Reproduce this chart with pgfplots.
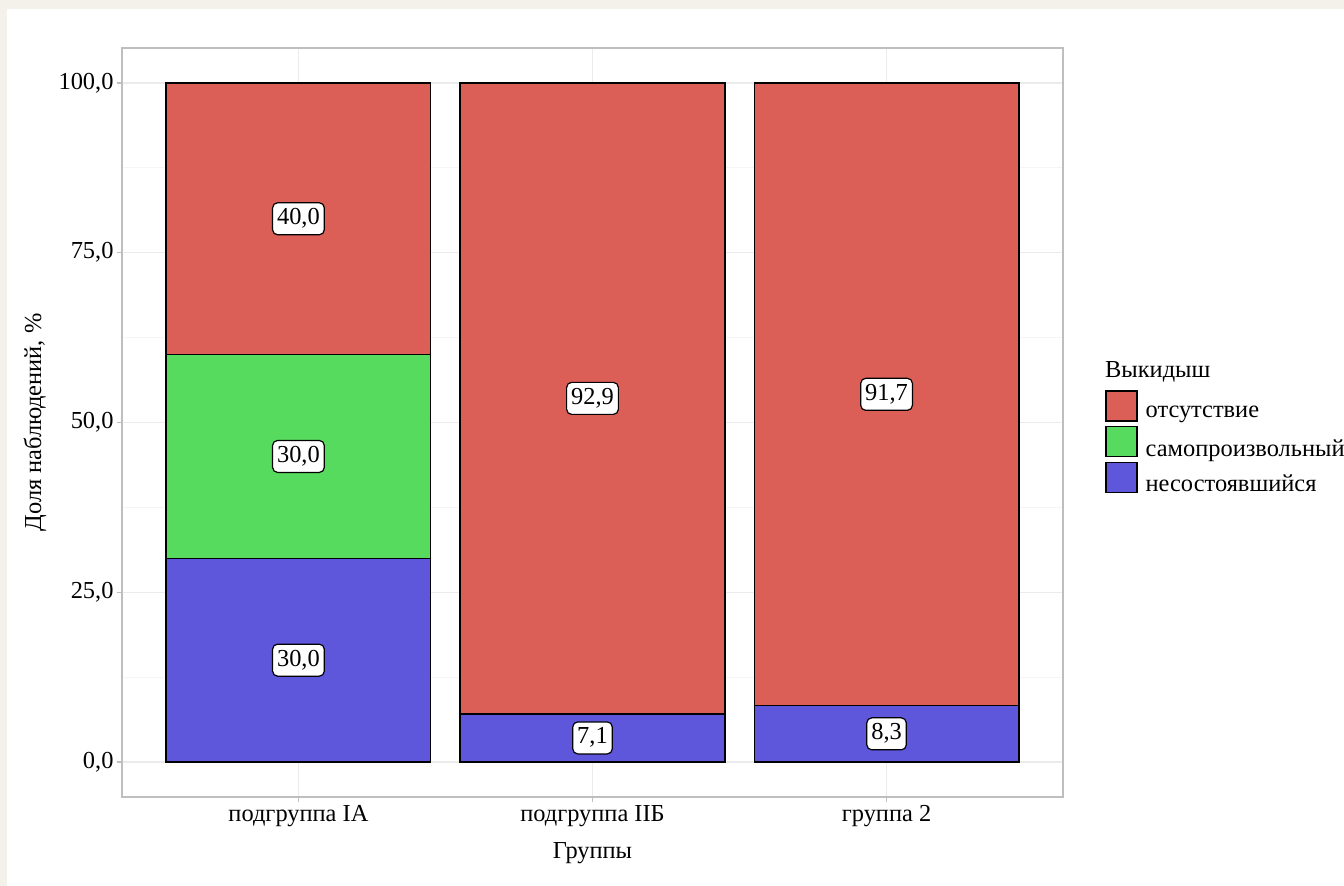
\documentclass[border=0pt]{standalone}
\usepackage{pgfplots}
\pgfplotsset{compat=1.18}
\usepackage{fontspec}
\setmainfont{Liberation Serif}
\definecolor{cred}{RGB}{219,95,87}
\definecolor{cgreen}{RGB}{87,219,95}
\definecolor{cblue}{RGB}{95,87,219}
\definecolor{bgpage}{RGB}{243,241,234}
\definecolor{frame}{RGB}{190,190,190}
\newcommand{\fs}{\fontsize{24.5}{29}\selectfont}
\begin{document}
\begin{tikzpicture}
\fill[bgpage] (0bp,0bp) rectangle (1344bp,886bp);
\fill[white] (7bp,0bp) rectangle (1344bp,877bp);
\useasboundingbox (0bp,0bp) rectangle (1344bp,886bp);
\begin{axis}[
  at={(122bp,89bp)}, anchor=south west,
  scale only axis, width=941bp, height=749bp,
  xmin=0.4, xmax=3.6, ymin=-5.15, ymax=105.15,
  xtick={1,2,3},
  xticklabels={подгруппа IA, подгруппа IIБ, группа 2},
  ytick={0,25,50,75,100},
  yticklabels={{0,0},{25,0},{50,0},{75,0},{100,0}},
  minor ytick={12.5,37.5,62.5,87.5},
  xmajorgrids, ymajorgrids, yminorgrids,
  major grid style={draw=black!8, line width=1.2bp},
  minor grid style={draw=black!4, line width=0.8bp},
  axis line style={draw=frame, line width=2bp},
  tick align=outside, xtick pos=left, ytick pos=left,
  major tick length=5bp, minor tick length=0pt,
  tick style={draw=black!25, line width=1.2bp},
  tick label style={font=\fs},
  xlabel={Группы}, ylabel={Доля наблюдений, \%},
  every axis y label/.style={at={(axis description cs:-0.0925,0.5)}, rotate=90, anchor=center, font=\fs},
  every axis x label/.style={at={(axis description cs:0.5,-0.0748)}, anchor=center, font=\fs},
  legend style={at={(axis description cs:1.0446,0.5434)}, anchor=north west,
    draw=none, fill=none, inner sep=0pt, row sep=4bp, column sep=8bp,
    font=\fs, nodes={inner sep=0pt}, name=leg},
  legend cell align=left,
  legend image code/.code={\draw[#1, draw=black, line width=1.5bp] (0bp,-8bp) rectangle (31bp,22bp);},
]
\addplot[ybar, bar width=0.9, bar shift=0pt, fill=cred, draw=black, line width=1.4bp]
  coordinates {(1,100) (2,100) (3,100)};
\addlegendentry{отсутствие}
\addplot[ybar, bar width=0.9, bar shift=0pt, fill=cgreen, draw=black, line width=1.4bp]
  coordinates {(1,60) (2,7.1) (3,8.3)};
\addlegendentry{самопроизвольный}
\addplot[ybar, bar width=0.9, bar shift=0pt, fill=cblue, draw=black, line width=1.4bp]
  coordinates {(1,30) (2,7.1) (3,8.3)};
\addlegendentry{несостоявшийся}
\addplot[draw=none, mark=none, forget plot, nodes near coords, point meta=explicit symbolic,
  nodes near coords align=center,
  every node near coord/.style={fill=white, draw=black, rounded corners=5bp, line width=1.2bp,
    inner xsep=4.5bp, inner ysep=5bp, text height=17bp, text depth=5bp, font=\fs, anchor=center}]
  coordinates {(1,80)[40,0] (1,45)[30,0] (1,15)[30,0] (2,53.55)[92,9] (2,3.55)[7,1] (3,54.15)[91,7] (3,4.15)[8,3]};
\end{axis}
\node[anchor=base west, font=\fs, inner sep=0pt] at ([yshift=12bp]leg.north west) {Выкидыш};
\end{tikzpicture}
\end{document}
